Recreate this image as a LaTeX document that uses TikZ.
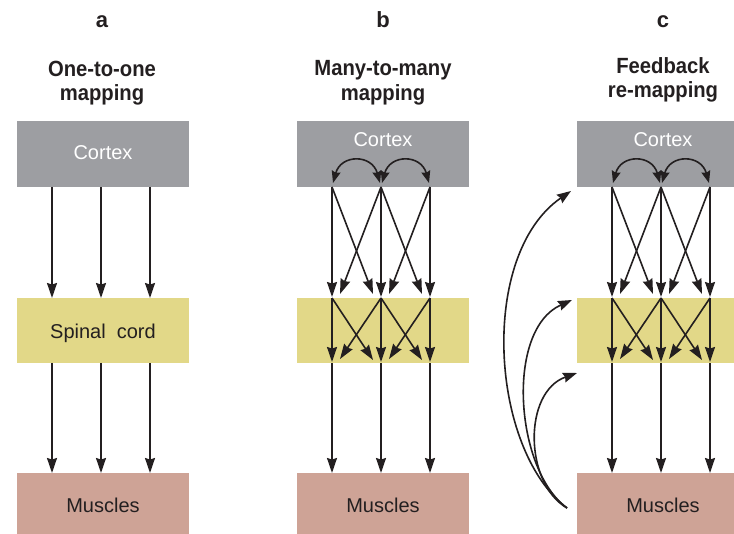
\documentclass[tikz,border=0pt]{standalone}
\usepackage{fontspec}
\setmainfont{Liberation Sans}
\newfontfamily\titlefont[FakeStretch=0.92]{Liberation Sans}
\usetikzlibrary{arrows.meta,calc}
\definecolor{cortexc}{RGB}{157,158,162}
\definecolor{spinalc}{RGB}{226,216,136}
\definecolor{musclec}{RGB}{206,163,150}
\definecolor{ink}{RGB}{35,31,32}
\begin{document}
\begin{tikzpicture}[x=1pt,y=-1pt,
  box/.style={inner sep=0pt,outer sep=0pt,draw=none,minimum width=172pt},
  lbl/.style={inner sep=0pt,anchor=base,font=\fontsize{20}{24}\selectfont,text=ink},
  wlbl/.style={lbl,text=white},
  panel/.style={inner sep=0pt,anchor=base,font=\bfseries\fontsize{22}{24}\selectfont,text=ink},
  ttl/.style={inner sep=0pt,anchor=base,font=\titlefont\bfseries\fontsize{22}{24}\selectfont,text=ink},
  conn/.style={line width=1.6pt,draw=ink,-{Stealth[length=15pt,width=10pt,inset=1.5pt]}},
  arc/.style={line width=1.6pt,draw=ink,{Stealth[length=12pt,width=9pt,inset=1.5pt]}-{Stealth[length=12pt,width=9pt,inset=1.5pt]}},
  fbk/.style={line width=1.6pt,draw=ink,-{Stealth[length=14pt,width=10pt,inset=1.5pt]}}]
\useasboundingbox (0,0) rectangle (734,534);

% boxes and neuron points
\foreach \p/\cx in {a/103,b/383,c/663} {
  \node[box,fill=cortexc,minimum height=66pt] (\p-cx) at (\cx,154) {};
  \node[box,fill=spinalc,minimum height=65pt] (\p-sp) at (\cx,330.5) {};
  \node[box,fill=musclec,minimum height=64pt] (\p-mu) at (\cx,505) {};
  \foreach \i/\dx in {1/-51,2/-2,3/47} {
    \coordinate (\p-ct-\i) at (\cx+\dx,187);
    \coordinate (\p-st-\i) at (\cx+\dx,298);
    \coordinate (\p-sb-\i) at (\cx+\dx,363);
    \coordinate (\p-mt-\i) at (\cx+\dx,473);
  }
}

% panel letters and titles
\node[panel] (la) at (102,28) {a};
\node[panel] (lb) at (383,28) {b};
\node[panel] (lc) at (663,28) {c};
\node[ttl] (ta1) at (102,77) {One-to-one};
\node[ttl] (ta2) at (102,101) {mapping};
\node[ttl] (tb1) at (383,76) {Many-to-many};
\node[ttl] (tb2) at (383,101) {mapping};
\node[ttl] (tc1) at (663,74) {Feedback};
\node[ttl] (tc2) at (663,98) {re-mapping};

% box texts
\node[wlbl] (a-cxt) at (103,160) {Cortex};
\node[lbl] (a-spt) at (103,339) {Spinal\ \ cord};
\node[lbl] (a-mut) at (103,512) {Muscles};
\node[wlbl] (b-cxt) at (383,147) {Cortex};
\node[lbl] (b-mut) at (383,512) {Muscles};
\node[wlbl] (c-cxt) at (663,147) {Cortex};
\node[lbl] (c-mut) at (663,512) {Muscles};

% panel a: one-to-one
\foreach \i in {1,2,3} {
  \draw[conn] (a-ct-\i) -- (a-st-\i);
  \draw[conn] (a-sb-\i) -- (a-mt-\i);
}

% panels b and c: many-to-many
\foreach \p in {b,c} {
  \foreach \i in {1,2,3} {
    \draw[conn] (\p-ct-\i) -- ($(\p-st-\i)+(0,-1)$);
    \draw[conn] (\p-st-\i) -- ($(\p-sb-\i)+(0,-1)$);
    \draw[conn] (\p-sb-\i) -- (\p-mt-\i);
  }
  \draw[conn] (\p-ct-1) -- ($(\p-st-2)+(-8,-4)$);
  \draw[conn] (\p-ct-2) -- ($(\p-st-1)+(8,-4)$);
  \draw[conn] (\p-ct-2) -- ($(\p-st-3)+(-8,-4)$);
  \draw[conn] (\p-ct-3) -- ($(\p-st-2)+(8,-4)$);
  \draw[conn] (\p-st-1) -- ($(\p-sb-2)+(-8,-3)$);
  \draw[conn] (\p-st-2) -- ($(\p-sb-1)+(8,-4)$);
  \draw[conn] (\p-st-2) -- ($(\p-sb-3)+(-8,-3)$);
  \draw[conn] (\p-st-3) -- ($(\p-sb-2)+(8,-4)$);
  \draw[arc] ($(\p-ct-1)+(1,-4)$) .. controls ($(\p-ct-1)+(9,-33)$) and ($(\p-ct-2)+(-9,-33)$) .. ($(\p-ct-2)+(-1,-4)$);
  \draw[arc] ($(\p-ct-2)+(1,-4)$) .. controls ($(\p-ct-2)+(9,-33)$) and ($(\p-ct-3)+(-9,-33)$) .. ($(\p-ct-3)+(-1,-4)$);
}

% panel c: feedback
\coordinate (fb) at (567,508);
\coordinate (fb1) at (571,191);
\coordinate (fb2) at (572,300);
\coordinate (fb3) at (577,373);
\draw[fbk] (fb) .. controls (490,450) and (478,255) .. (fb1);
\draw[fbk] (fb) .. controls (515,470) and (505,330) .. (fb2);
\draw[fbk] (fb) .. controls (524,483) and (523,392) .. (fb3);
\end{tikzpicture}
\end{document}
